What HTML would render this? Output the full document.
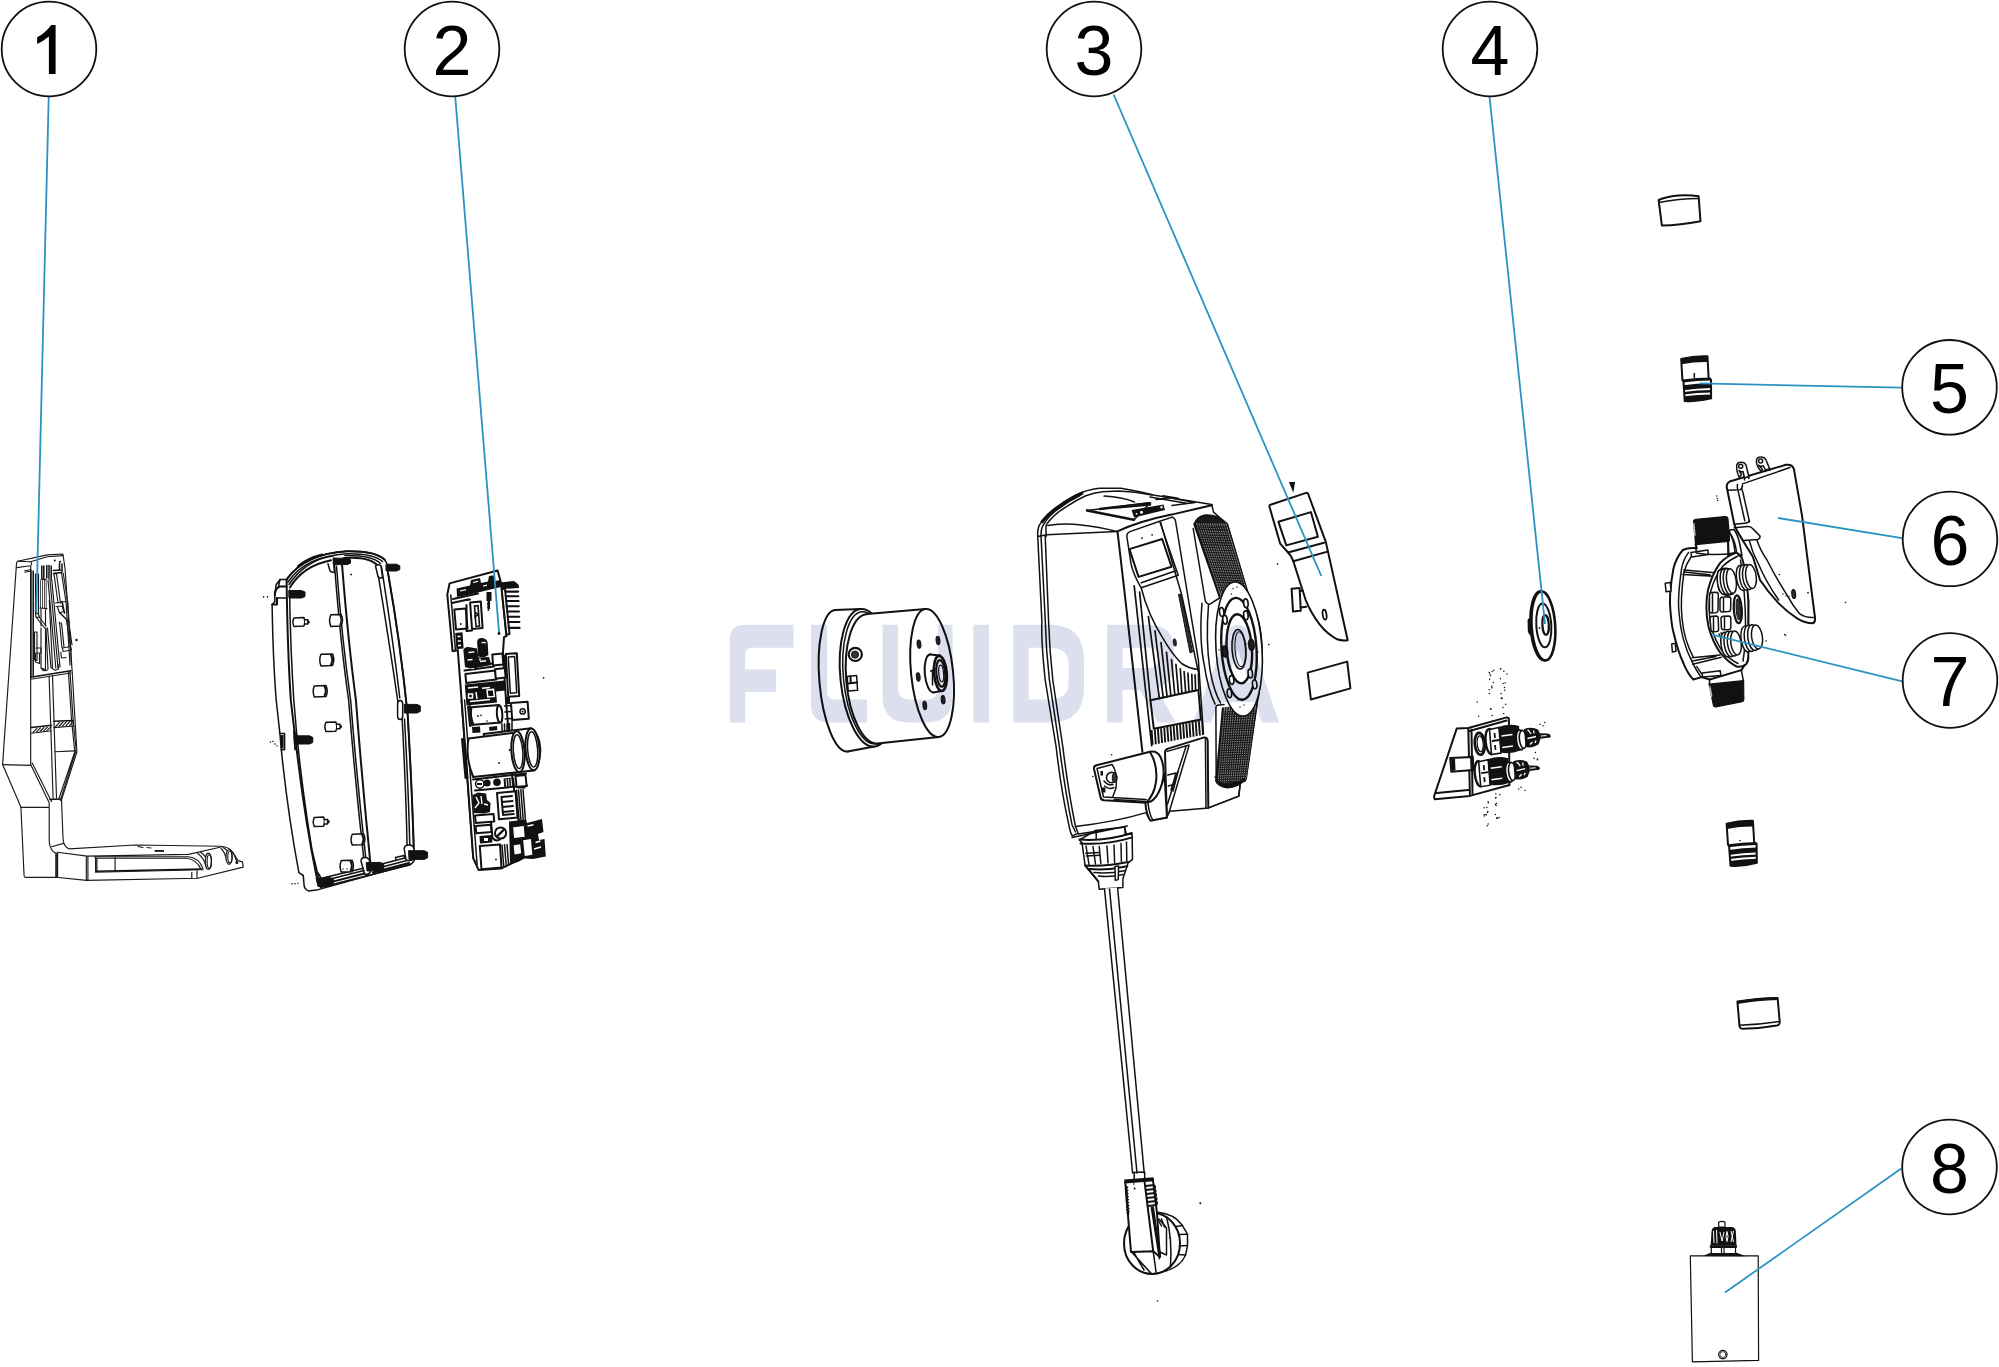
<!DOCTYPE html>
<html>
<head>
<meta charset="utf-8">
<title>Exploded view</title>
<style>
html,body{margin:0;padding:0;background:#fff;}
body{width:1999px;height:1367px;overflow:hidden;font-family:"Liberation Sans",sans-serif;}
svg{display:block;position:absolute;left:0;top:0;}
.k{fill:none;stroke:#111;stroke-width:1.5;stroke-linejoin:round;stroke-linecap:round;}
.kf{fill:#fff;stroke:#111;stroke-width:1.5;stroke-linejoin:round;stroke-linecap:round;}
.t{fill:none;stroke:#222;stroke-width:0.9;stroke-linejoin:round;stroke-linecap:round;}
.tf{fill:#fff;stroke:#222;stroke-width:0.9;stroke-linejoin:round;stroke-linecap:round;}
.b{fill:none;stroke:#111;stroke-width:2;stroke-linejoin:round;stroke-linecap:round;}
.bf{fill:#fff;stroke:#111;stroke-width:2;stroke-linejoin:round;stroke-linecap:round;}
.d{fill:#111;stroke:none;}
.ld{stroke:#2b93c2;stroke-width:1.8;fill:none;}
.co{fill:#fff;stroke:#111;stroke-width:1.8;}
.num{font-family:"Liberation Sans",sans-serif;font-size:70px;fill:#000;text-anchor:middle;}
#p1 .k,#p1 .kf{stroke-width:1.15;stroke:#1a1a1a;}#p1 .b{stroke-width:1.5;}#p1 .t{stroke-width:0.8;}#p8 .kf,#p8 .k{stroke-width:1.2;}
.wm{fill:#dcdfee;mix-blend-mode:multiply;}
</style>
</head>
<body>
<svg width="1999" height="1367" viewBox="0 0 1999 1367">
<rect width="1999" height="1367" fill="#fff"/>
<g id="p1">
<!-- tall body silhouette -->
<path class="kf" d="M17.7 561.3 L47.3 554.9 L62.9 554 L65 568 L72.2 672 L76.9 752 L61.5 799.7 L63 838 Q63.5 847 69.2 848.9 L135.3 845 L221.1 846.3 Q229 847 233 852.5 L238 860.6 L242.6 861.9 L243.2 867.1 L197.7 878.2 L86.5 880.4 L55.9 877.3 H25.4 Q24.2 877.3 24.1 876 L20.9 807 L2.6 764.6 L16.3 566.5 Q16.4 562 17.7 561.3 Z"/>
<!-- top lip -->
<path class="k" d="M17.7 561.3 L30.6 561.7 Q31.6 562.5 31.6 565 M16.7 567.6 L30.2 565.8 M30.6 561.7 L47.3 556.8 L62.9 555.6"/>
<!-- front-left face inner edge -->
<path class="k" d="M30.7 566 V764.4 L49.2 802.8 V841.2 Q50 851 56.3 853.5 V877.5 M2.6 764.6 L30.7 765.4 M20.9 807.3 H49.2"/>
<!-- base -->
<path class="k" d="M57.2 852.2 L87.1 856.1 L188.6 854.4 L221.1 847 M86.3 856.1 V880 M87.9 856.1 V880 M55.9 853 V877.3 M57.6 853 V877.3 M51.5 846.7 L63.6 843.4"/>
<path class="k" d="M94.3 856.7 H188.6 Q199 858 202.9 868.4 M95.6 857 V872.3 L202.9 869.7 V868.4 M97.5 858.2 H187.3 Q197 860 200.8 869 M96.9 858 V871 M115.1 856.7 V871.5 M191.8 872.3 V878.3 M197 871 V878.2"/>
<path class="b" d="M96 871.2 L201.5 868.9"/>
<path class="k" d="M197.5 853 Q204 858 206 866 M200.5 852 Q207 857 209 864"/>
<ellipse class="kf" cx="208.3" cy="861.3" rx="3" ry="8.2"/><ellipse class="k" cx="209.3" cy="861.5" rx="2.2" ry="6.8"/>
<path class="k" d="M221 848.5 Q225 852 226.5 860 M223 847.5 Q228 850 230 856"/>
<ellipse class="kf" cx="229" cy="856.9" rx="3" ry="7.4"/><ellipse class="k" cx="230" cy="857" rx="2.2" ry="6"/>
<path class="k" d="M229 849 Q234 852 236.5 861"/>
<circle class="d" cx="236.9" cy="862.6" r="1.5"/>
<rect class="d" x="154.6" y="850" width="9.4" height="1.8"/>
<path class="k" d="M138 846.5 L143 847.5 M147 847.5 L151 848"/>
<!-- frame inner right -->
<path class="k" d="M68.4 672 L71.6 721 L74.8 751.7 L58.7 799.2 M70 671.3 L73.2 721.2 L76.2 750 L60.3 800.5"/>
<path class="k" d="M32.2 763 L51.5 801.6"/>
<!-- cross bars -->
<path class="b" d="M30.7 677.2 L70.8 670.8"/>
<path class="k" d="M30.7 679.3 L70.8 673"/>
<path class="b" d="M31.4 727.6 L51.5 725.2 M53.9 721.2 L73.2 720.4"/>
<path class="k" d="M31.4 733.2 L51.5 730.8 M53.9 727.6 L74 726"/>
<path class="k" d="M33 732.3 l4-4 M36.5 731.9 l4-4 M40 731.5 l4-4 M43.5 731.1 l4-4 M47 730.7 l4-4 M55.5 726.8 l4-4.5 M59 726.5 l4-4.5 M62.5 726.2 l4-4.5 M66 725.9 l4-4.5 M69.5 725.6 l3.5-4"/>
<path class="k" d="M54.7 751.7 L74.8 750.9"/>
<!-- centre post -->
<path class="k" d="M49.1 676 L53.1 798.4 M52.5 675.5 L56.5 798"/>
<path class="b" d="M50 799.5 L60 799"/>
<!-- mechanism block -->
<path class="b" d="M30.9 570 V677 M33.2 571 V676"/>
<path class="k" d="M24.8 570.8 L30.5 569.8 M25 572.2 L30.5 571.2"/>
<path class="k" d="M35.5 574 V612.5 L38.5 614 V574 Z M35.5 612.5 L36 617 L39.5 617.5 L38.5 614"/>
<path class="k" d="M36 617 L44.5 628 M39.5 617.5 L46 626"/>
<path class="b" d="M41.8 566 V579 M43.8 566 V579 M41.5 579 L45.8 579.4"/>
<path class="t" d="M40.5 580 V608 M42.5 580 V608 M44.5 580.3 V608 M46.2 580.5 V608"/>
<path class="k" d="M40 608 L47 608.6 M41 608.5 V626 M45.5 609 V626"/>
<path class="b" d="M46.8 565.5 V578 M49 565.5 V579 M51.2 566 V580"/>
<path class="k" d="M41 628 V668 L45.5 669.5 V628 M41 668 Q43 672 47.5 670 M46 628 L48 669 M50 580 L58 668 M51.8 580 L60 667 M48 580 L55.8 668"/>
<path class="k" d="M52 668 Q54.5 671.5 58.5 669 L58 664"/>
<path class="k" d="M47.5 628 L51 668 M49.3 600 L52.5 668"/>
<path class="b" d="M53.3 570.5 L60.5 570 M53.5 573.5 L61.5 572.5 M59.5 563.5 V570 M62 564 V572"/>
<circle class="d" cx="54.8" cy="560.6" r="1"/><circle class="d" cx="60" cy="561.8" r="1.1"/><circle class="d" cx="55.8" cy="573.5" r="1.1"/>
<path class="k" d="M54 574 L58 603 M56.5 574 L60.5 603 M61.5 573 L66 602 M63.2 573 L67.5 601"/>
<path class="k" d="M55.5 603 L66 601.5 M56 606.5 L62.5 606 M57.5 607 L59.5 613 L63.5 611.5 L62.5 606"/>
<path class="b" d="M60 613 L68 621 M62 601.5 L64.5 613"/>
<path class="k" d="M59.5 622 L62 648 M61.5 623 L64 647 M66.5 620 L70.5 646 M68.5 620 L72 645"/>
<path class="k" d="M62.5 648 L70.5 646.5 L71.5 650 L63 651.5 Z M60.8 652 L61.5 658 L66 657.5"/>
<path class="k" d="M66 602 L70 665 M67.8 601.5 L71.5 664"/>
<path class="k" d="M34.5 632 V660 L37 660.5 V632 Z M36 648 H41 V653 H36.5 M35.5 653 V662 L39.5 663.5 V654"/>
<circle class="d" cx="59.6" cy="623" r="0.9"/>
<circle class="d" cx="76.5" cy="640" r="1.2"/>

</g>
<g id="p2a">
<!-- outer silhouette filled white -->
<path class="kf" stroke-width="2" d="M272.1 604.5 L274.8 601.9 V595.3 L276.1 584.8 L280 579.5 L286.6 579.5 C296 566 314 553 347.2 551.2 C362 551 378 553 384.7 559.8 Q388 564 388 572.9 Q400 640 407.7 715 Q412 790 413.7 846.3 L415.2 858 Q414 862 411.5 863.8 L316.4 890.1 L308.4 890.9 Q304 889 304 884.3 L303.3 875.5 L298.9 872.6 Q288 815 281.3 749.7 L279.9 733.6 L276.2 700 Q273 660 272.1 604.5 Z"/>
<!-- top-left corner block -->
<path class="b" d="M272.1 604.5 H277 V598 M274.8 595.3 Q275 588 280 586.5 H286.6"/>
<path class="k" d="M276.5 598 H286.6 M280 579.5 L278.5 586.5"/>
<!-- left rim lines -->
<path class="b" d="M286.6 580 Q287.5 650 290.8 700 Q293 720 295.2 736.6 Q304 815 316.4 875.5 L319.4 885.8" stroke-width="2.6"/>
<path class="k" d="M289.5 590 Q290.5 650 293.8 700 Q299 770 312 850 L318.5 877"/>
<path class="k" d="M279.9 733.6 H284.6 V749.7 H281.3"/>
<rect class="d" x="280.6" y="735" width="3" height="13.5"/>
<!-- arch -->
<path class="b" d="M286.6 579.5 C296 566 314 553 347.2 551.2 C362 551 378 553 384.7 559.8"/>
<path class="k" d="M288 582 C297 568.5 314 555.5 347 553.7 C361 553.5 376 555.5 382.5 561.5"/>
<path class="k" d="M289 584.5 C298 571 314 558 333 556 M345 555.6 C360 555.3 374 557.5 380.5 563.5"/>
<path class="b" d="M289.9 587.4 C298 574 312 564 331 560.2 M344 558 C358 557 372 559 378 566"/>
<path class="b" d="M298 566 C304 561 312 557 322 554.5" stroke-width="2.6"/>
<!-- centre divider -->
<path class="k" d="M334 558 Q340 640 348.6 700 Q355 780 364 860.9"/>
<path class="k" d="M336.5 566.3 Q342 640 350.6 700 Q357 780 366 860"/>
<path class="b" d="M341.9 563 Q348 640 355.9 700 Q362 780 370.6 865.3" stroke-width="2.6"/>
<!-- right edge -->
<path class="k" d="M376.8 566.3 Q389 640 397.9 702"/>
<path class="k" d="M381.4 566.3 Q393 640 399.8 698 M402 716 Q406 790 407.1 846.3"/>
<path class="b" d="M388 572.9 Q400 640 407.7 715 Q412 790 413.7 846.3" stroke-width="2.8"/>
<path class="k" d="M404.5 719 Q408.5 790 409.8 846"/>
<!-- bosses -->
<path class="kf" d="M328 563.7 L330 571 Q332 573 334.5 572 L333.5 563"/>
<path class="kf" d="M375.5 566 L378 576.5 Q380 579 382.5 577.5 L381 566 Q378 563.5 375.5 566 Z"/>
<path class="kf" d="M397.6 704 Q397.6 700.5 400.2 700.5 Q402.7 700.5 402.7 704 V716 Q402.7 719.5 400.2 719.5 Q397.6 719.5 397.6 716 Z"/>
<path class="k" d="M293.8 730.7 L298.9 740 L295 749.7 Z"/>
<path class="kf" d="M361 861 Q361 857.5 365 857.5 Q369 857.5 369.5 861 L370.5 872 Q368 875.5 364.5 874 Z"/>
<path class="kf" d="M404.2 849 Q404.2 845 409 845 Q413.5 845 414 849 L414.5 858.5 Q411 862 406 860 Z"/>
<path class="k" d="M316 872 Q320.5 874 321 880"/>
<!-- bottom rail -->
<path class="k" d="M323.7 877.7 L363.2 868.2 M372 866.5 L405 858"/>
<path class="k" d="M324.5 880.5 L364 870.6 M372.5 869.5 L407 860.5"/>
<path class="b" d="M325 883.6 L364.5 873.5 M373 872.5 L409 863"/>
<path class="k" d="M320.5 887.6 L410.5 864.8"/>
<path class="k" d="M395.5 857.5 L404 855.5 L404.5 857.5 M395.5 857.5 L396 859.8"/>
<!-- screws -->
<g fill="#111" stroke="#111" stroke-width="1" stroke-linejoin="round">
<path d="M386 564.2 H396.5 L399.8 565.8 V569.6 L396.5 571 H386 Z"/>
<path d="M333 558.2 H347 L350.5 559.6 V563.2 L347 564.6 H333.5 Z"/>
<path d="M288.8 590.5 H301.5 L305 592 V596.6 L301.5 598 H289 Z"/>
<path d="M404.2 704.4 H417 L420.3 706 V711.4 L417 713 H404.5 Z"/>
<path d="M294 735.8 H309.5 L312.8 737.4 V742.4 L309.5 744 H294.5 Z"/>
<path d="M316 878 L330 877.6 L333.3 879 V884.8 L330 886.5 L318 886.5 Z"/>
<path d="M366.2 862.6 L380.5 862.4 L383.7 864 V869.4 L380.5 871 H367 Z"/>
<path d="M408.6 850.7 H424.3 L427.6 852.3 V857.8 L424.3 859.4 H409 Z"/>
</g>
<!-- standoffs -->
<g class="kf">
<path d="M294 617.9 L304 617.5 Q305.7 621.8 304 626 L294 626.4 Q291.8 622.2 294 617.9 Z"/><path d="M305 619.8 H307.8 V624 H305 M307.8 620.6 Q310.5 622 307.8 623.4"/>
<path d="M330.8 614.8 L341 614.4 Q344 620.2 341 626 L330.8 626.4 Q328.4 620.6 330.8 614.8 Z"/><path d="M340 615.5 Q342.4 620.2 340 625"/>
<path d="M321 654.3 L332.5 653.9 Q335 659.7 332.5 665.5 L321 665.9 Q318.5 660 321 654.3 Z"/><path d="M331 655 Q333.4 659.7 331 664.6" stroke-width="2"/>
<path d="M314.3 685.9 L326 685.5 Q328.5 691 326 696.5 L314.3 696.9 Q312 691.4 314.3 685.9 Z"/><path d="M324.6 686.6 Q327 691 324.6 695.6" stroke-width="2"/>
<path d="M326 722.3 L335.8 721.9 Q337.8 726.6 335.8 731.2 L326 731.6 Q323.8 727 326 722.3 Z"/><path d="M337 724.3 H340 V728.8 H337 M340 725.2 Q343 726.6 340 728"/>
<path d="M314.3 817.4 L323.6 817 Q325.4 821.7 323.6 826.2 L314.3 826.6 Q312.2 822 314.3 817.4 Z"/><path d="M324.6 819.4 H327.6 V823.9 H324.6 M327.6 820.3 Q330.6 821.7 327.6 823"/>
<path d="M352.3 834.2 L363.6 833.8 Q366.4 839.3 363.6 844.7 L352.3 845.1 Q349.8 839.6 352.3 834.2 Z"/><path d="M362.2 834.9 Q364.6 839.3 362.2 843.8" stroke-width="2"/>
<path d="M341.3 860.6 L352 860.2 Q354.8 866 352 871.7 L341.3 872.1 Q338.8 866.4 341.3 860.6 Z"/><path d="M350.6 861.3 Q353 866 350.6 870.8" stroke-width="2"/>
</g>
<g class="d">
<circle cx="263.6" cy="596.9" r="0.8"/><circle cx="267.5" cy="596.9" r="0.8"/><circle cx="351.1" cy="574.5" r="0.9"/>
<circle cx="270.4" cy="742" r="0.8"/><circle cx="273" cy="741.5" r="0.8"/><circle cx="275" cy="744" r="0.8"/><circle cx="277" cy="746" r="0.7"/>
<circle cx="292" cy="883.8" r="0.8"/><circle cx="295" cy="883.8" r="0.8"/><circle cx="298" cy="883.4" r="0.7"/>
<circle cx="343" cy="869" r="0.7"/><circle cx="347" cy="869" r="0.7"/>
</g>

</g>
<g id="p2b">
<!-- PCB board outline -->
<path class="bf" d="M449.6 583.4 L497.6 570.5 L500.5 581.1 L501.7 589 L506.4 634.9 V636 L504 637.2 L502.9 653.6 L506 700 L512 775 L520 830 L523 858 L500.9 868.6 L478.5 869.9 L473.2 858 L463.1 720 L457.8 650.1 L452.6 651.3 L447.3 594.5 Z"/>
<path class="k" d="M450.8 595.1 L455.5 650.7 M464.6 700 L477.1 864.6 M461.3 700 L473.2 858"/>
<!-- top dark band -->
<path d="M456.6 588.5 L470 585.5 L471 580 L480 578 L481 583 L488 581.5 L489 576 L494 575.2 L495 581 L500.5 580 L501 587 L486 590.5 L470 594.5 L457 597 Z" fill="#111"/>
<path d="M460 591 l6-1.3 M473 582.5 l5-1.1 M483 586 l4-0.9" stroke="#fff" stroke-width="1.2" fill="none"/>
<path class="b" d="M453 599 L478 593.5 M452 603 L468 599.6"/>
<!-- pin header -->
<path class="bf" d="M501.7 589.3 L505 588.7 L509.5 634 L506.4 634.9 Z"/>
<g stroke="#111" stroke-width="2.1" stroke-linecap="round">
<path d="M505 586.9 H518 M505.4 591.6 H518.2 M505.8 596.3 H518.4 M506.2 601 H518.6 M506.7 606.2 H518.8 M507.2 611.5 H519 M507.7 616.8 H519.2 M508.2 622 H519.4 M508.7 627.9 H519.6"/>
</g>
<path d="M498.5 582.5 L514 581 L518.5 584.5 L518.7 588 L503 589 Z" fill="#111"/>
<!-- dark vertical blob -->
<path d="M486.5 592 H491.5 V601 H490 V609 H487.5 V601 H486.5 Z" fill="#111"/>
<circle class="d" cx="488" cy="604" r="1"/><circle class="d" cx="488.2" cy="607" r="1"/><circle class="d" cx="488.4" cy="610" r="1"/>
<!-- big square & chip -->
<path class="bf" d="M454.3 609.5 L465.8 608.5 L467.5 628.5 L456 629.5 Z" stroke-width="2.6"/>
<circle class="d" cx="460.8" cy="624" r="0.9"/>
<path class="bf" d="M470.1 602.5 L480.8 601.5 L482.6 628 L472 629 Z" stroke-width="2.6"/>
<path d="M474.5 606 L478 605.7 L479.5 626 L476 626.3 Z M475 612 l3 2.5 l-3 2.5Z" fill="none" stroke="#111" stroke-width="1.6"/>
<path class="b" d="M466 600 L470 599.5 M466.5 605 V631 L472 630.5" stroke-width="2.4"/>
<!-- left strip comps -->
<path d="M455.2 633 L462.5 632.3 L463.6 648.5 L456.4 649.2 Z" fill="#111"/>
<path d="M457.5 636.5 h3 M457.8 641 h3 M458 645.5 h3" stroke="#fff" stroke-width="1.3"/>
<circle class="d" cx="499" cy="633.5" r="1.4"/>
<!-- cap blob + cluster -->
<path d="M477.1 642 Q477.5 637.5 482 638 Q487.2 638.3 487.7 643 L488.4 655 Q484 658.5 478.2 656.5 Z" fill="#111"/>
<path d="M481.5 643 Q484 641.8 486 643.2" stroke="#fff" stroke-width="1.2" fill="none"/>
<path d="M463.3 650 Q465 646 470 647.3 L477 648.5 L478.5 657.5 L489 657 L491.4 665 L478 667.5 L470 668.5 L465 667 Z" fill="#111"/>
<path d="M468.5 652.5 l6-0.6 M467.5 660 l5-0.5 M480 661.5 l6-0.8" stroke="#fff" stroke-width="1.4" fill="none"/>
<circle cx="480" cy="659.5" r="1" fill="#fff"/>
<path class="bf" d="M492.3 654.5 L502.5 653.6 L503.3 664.6 L493.1 665.5 Z"/>
<!-- horizontal bar & block -->
<path class="b" d="M464.5 670.5 L494 666.5 M475 669.5 L476 666 L492 663.5" stroke-width="2.4"/>
<path class="bf" d="M465.4 674 L495.4 670.6 L496.2 679.6 L466.2 683 Z" stroke-width="2.4"/>
<path class="bf" d="M495 669.2 L504.8 668 L505.6 677.6 L495.8 678.8 Z"/>
<!-- tall narrow rect -->
<path class="bf" d="M505.8 654 L516.8 653.2 L519.2 696 L508.2 696.8 Z" stroke-width="2.4"/>
<path class="k" d="M508.3 657 L514.6 656.5 L516.7 692.8 L510.3 693.3 Z"/>
<path d="M503.3 655 L506 654.8 L507.2 672 L504.6 672.3 Z" fill="#111"/>
<!-- lower dark stuff -->
<path d="M464.8 684.5 L504 680.5 L505.5 690.5 L496 691.5 L497 702.5 L466.5 705.5 Z" fill="#111"/>
<path d="M468 688 l10-1 M482 688.2 l8-0.8 M468.5 694 h4 v4 h-4z M476 692 l1 7 M487 690 l6.5-0.6 l0.8 7 l-6.5 0.6z M470 701.5 l20-2" stroke="#fff" stroke-width="1.5" fill="none"/>
<path d="M505 697 H510 V704 H505.5Z" fill="#111"/>
<!-- small horizontal cylinder -->
<path class="bf" d="M471.5 707.2 L499 705 Q503.8 713 501.2 722.6 L473.5 724.8 Q469.5 716 471.5 707.2 Z"/>
<ellipse class="bf" cx="499.6" cy="714" rx="2.7" ry="8.6" transform="rotate(-4 499.6 714)"/>
<path class="b" d="M470 706 L472 725.5 M468 706.5 L470 726" />
<circle class="d" cx="478" cy="716" r="0.9"/><circle class="d" cx="481" cy="715.4" r="0.8"/><circle class="d" cx="487" cy="721" r="0.8"/>
<!-- box right -->
<path class="bf" d="M511 703 L527.6 701.8 L528.8 718.8 L512.2 720 Z"/>
<path class="k" d="M504.5 706 L511.2 705.5 M505.2 719 L512 718.4 M511.6 711.5 L504.8 712"/>
<circle class="k" cx="522.6" cy="711.4" r="2.6"/><circle class="d" cx="522.6" cy="711.4" r="1"/>
<path d="M472 727 L480 726.5 L480.4 732.5 L472.5 733 Z M489 727 L497 726 L497.3 730 L489.5 731Z" fill="#111"/>
<path class="k" d="M502 724 V733 M504.5 724 V733 M507 724 V732.5 M509.5 723.5 V732 M512 721 V732"/>
<!-- big capacitors -->
<path class="bf" d="M483.7 734 L531.2 728.3 Q540 735 540.3 749.4 Q540 764 534 770.4 L488 775.5 Z"/>
<ellipse class="bf" cx="532.5" cy="749.4" rx="7" ry="21" transform="rotate(-4 532.5 749.4)"/>
<ellipse class="k" cx="532.6" cy="749.4" rx="5" ry="17.6" transform="rotate(-4 532.6 749.4)"/>
<path class="bf" d="M468.6 738.4 L516 732.6 Q524 740 524.8 751.4 Q524.5 765 519.3 772 L473.2 777 Q465 757 468.6 738.4 Z"/>
<ellipse class="bf" cx="518" cy="751.6" rx="6.6" ry="20.4" transform="rotate(-4 518 751.6)"/>
<ellipse class="k" cx="518.1" cy="751.6" rx="4.7" ry="17" transform="rotate(-4 518.1 751.6)"/>
<path class="b" d="M464 738.5 L467.5 777.5 M462 739 L465.5 778"/>
<circle class="d" cx="509.5" cy="750" r="0.9"/><circle class="d" cx="499" cy="763" r="0.9"/>
<!-- row under capacitors -->
<path class="b" d="M473 779.5 L526 773.5 M475 790.5 L527 785.5"/>
<circle class="kf" cx="479.8" cy="784" r="4.2"/><path d="M477 784 h5" stroke="#111" stroke-width="2"/>
<circle class="d" cx="487" cy="783" r="3.6"/><circle class="d" cx="497" cy="782.3" r="3.8"/>
<path d="M503.5 778.5 L514 777.4 L514.8 786.4 L504.3 787.5 Z" fill="#111"/>
<path d="M506 779 l0.7 7.5 M508.5 778.8 l0.7 7.5 M511 778.5 l0.7 7.5" stroke="#fff" stroke-width="0.9"/>
<path class="bf" d="M515.5 776 L525.5 775 L526.6 786 L516.6 787 Z"/>
<path d="M517.5 786 h8 v2.5 h-8z" fill="#111"/>
<!-- relay -->
<path class="bf" d="M497 793 L515.5 791.2 L517.5 817.5 L499 819.3 Z" stroke-width="2.4"/>
<path class="b" d="M501.5 797 L512 796 M502 802 L512.5 801 M502.4 807 L513 806 M502.8 812 L513.4 811 M501.5 797 L503 815 L513.8 814"/>
<path class="k" d="M518.5 790 L521 821 M520.8 789.8 L523.3 820.8 M523 789.5 L525.5 820.5 M516.5 790.2 L519 821.2"/>
<!-- dark cluster left -->
<path d="M472.5 795 L478 792.5 L486 793.5 L487 800 L490.5 803 L490 812 L484 813.5 L473.5 813 Z" fill="#111"/>
<path d="M476 797 l3 6 l-4 5 M481 796 l1 8 M484 804 l4 1" stroke="#fff" stroke-width="1.4" fill="none"/>
<path class="bf" d="M475 815.5 L493.5 814 L494.3 821.5 L475.8 823 Z" stroke-width="2.4"/>
<path class="bf" d="M475.5 826 L490.8 824.8 L491.6 832 L476.3 833.2 Z" stroke-width="2.4"/>
<path class="b" d="M491 822 L492.5 838 Q496 842 500 839.5" stroke-width="2.2"/>
<!-- screw head -->
<circle class="bf" cx="500.6" cy="833" r="5.6"/><path d="M497 836.5 L504 829.5" stroke="#111" stroke-width="2.4"/>
<path d="M479.5 836 L492 835 L492.4 842.5 L480 843.5 Z" fill="#111"/><path d="M484 838 h4 v3 h-4z" fill="#fff"/>
<!-- bottom box -->
<path class="bf" d="M479.8 846 L500 844.4 L501.5 867.5 L481.5 869.2 Z" stroke-width="2.4"/>
<circle class="d" cx="496" cy="859.5" r="0.9"/>
<path class="k" d="M502 845 L503.8 867 M504.5 844.8 L506.3 866.5 M507 844.5 L508.6 865"/>
<!-- dark cluster right-bottom -->
<path d="M509 821.5 L526 819.5 L527 823 L542 819 L543.5 832 L538 834 L539 840 L544.5 839 L545.8 856.5 L533 859 L524 858.5 L518 862 L510 863.5 Z" fill="#111"/>
<path d="M514 828 l9-1 l0.8 9 l-9 1z M527.5 826 l6-1.3 M524 841 l1.5 14 l6-1 l-1.3-14z M535.5 842.5 l5-1.5 M534 849 l7-2 M514.5 846 l5-0.8 l0.8 7.5 l-5 0.8z" stroke="#fff" stroke-width="1.6" fill="#fff"/>
<circle class="d" cx="543.6" cy="677.8" r="0.9"/>

</g>
<g id="motor">
<!-- back flange -->
<ellipse class="bf" stroke-width="1.8" cx="841.4" cy="680.7" rx="22" ry="71" transform="rotate(-5 841.4 680.7)"/>
<path d="M835.2 610 L860.5 609 L874.4 746.5 L847.6 751.4 Z" fill="#fff" stroke="none"/>
<path class="b" stroke-width="1.8" d="M835.2 610 L860.5 609 M847.6 751.4 L874.4 746.5"/>
<ellipse class="bf" stroke-width="1.8" cx="867.45" cy="677.75" rx="27" ry="69.1" transform="rotate(-5.77 867.45 677.75)"/>
<ellipse class="k" cx="868.5" cy="677.75" rx="25" ry="66.3" transform="rotate(-5.77 868.5 677.75)"/>
<!-- body -->
<ellipse class="bf" stroke-width="1.8" cx="872.2" cy="678.9" rx="26" ry="65" transform="rotate(-5 872.2 678.9)"/>
<path d="M867 614.1 L925.5 609 L938.7 737 L877.3 743.6 Z" fill="#fff" stroke="none"/>
<path class="b" stroke-width="1.8" d="M867 614.1 L925.5 609 M877.3 743.6 L938.7 737"/>
<ellipse class="bf" stroke-width="1.8" cx="932.1" cy="673" rx="21" ry="64.3" transform="rotate(-5.9 932.1 673)"/>
<!-- bolt holes -->
<g fill="#222" stroke="#111" stroke-width="1">
<ellipse cx="919" cy="644.1" rx="1.9" ry="4.2" transform="rotate(-6 919 644.1)"/>
<ellipse cx="938" cy="640.5" rx="1.9" ry="4.2" transform="rotate(-6 938 640.5)"/>
<ellipse cx="918.2" cy="677" rx="1.9" ry="4.2" transform="rotate(-6 918.2 677)"/>
<ellipse cx="924.8" cy="705.5" rx="1.9" ry="4.2" transform="rotate(-6 924.8 705.5)"/>
<ellipse cx="943.1" cy="699.7" rx="1.9" ry="4.2" transform="rotate(-6 943.1 699.7)"/>
</g>
<!-- hub -->
<ellipse class="bf" stroke-width="1.8" cx="931.6" cy="673.4" rx="6.8" ry="19" transform="rotate(-5 931.6 673.4)"/>
<path d="M929.9 654.4 L940.2 655.8 L940.9 690.9 L933 692.4 Z" fill="#fff"/>
<path class="b" stroke-width="1.8" d="M929.9 654.4 L940 655.6 M933.2 692.4 L941.2 691"/>
<ellipse cx="940.4" cy="673.4" rx="6.4" ry="17.6" transform="rotate(-5 940.4 673.4)" fill="#fff" stroke="#111" stroke-width="2.6"/>
<ellipse cx="940.8" cy="673.4" rx="4.4" ry="13.4" transform="rotate(-5 940.8 673.4)" fill="none" stroke="#111" stroke-width="2.2"/>
<ellipse cx="941.2" cy="673.4" rx="2.4" ry="8.4" transform="rotate(-5 941.2 673.4)" fill="none" stroke="#111" stroke-width="1.2"/>
<path class="k" d="M932.5 670 V685 M930.5 671 H934"/>
<!-- side screw -->
<circle cx="855.3" cy="654.4" r="6.6" fill="#fff" stroke="#111" stroke-width="2.2"/>
<circle cx="855" cy="654.6" r="3.6" fill="#333" stroke="#111" stroke-width="1"/>
<!-- terminal -->
<path class="kf" d="M847.2 676.5 L856.6 675.6 L857.6 690.2 L848.2 691 Z"/>
<path class="b" stroke-width="1.8" d="M847.6 683.4 L857 682.4 M850.4 676.3 L850.8 683"/>

</g>
<g id="pump">
<path class="kf" stroke-width="1.9" d="M1037.7 535.6 Q1037.5 527 1040.2 523.9 Q1046 515 1053.7 509.5 Q1064 501 1075.5 495.2 Q1087 489.5 1099.1 488.2 L1121 488.2 Q1138 491 1154.6 495.2 L1211.8 504.5 L1213.5 512.1 L1227.2 524.2 L1248.1 594.4 Q1262 620 1262 650 Q1261 690 1256.8 704.2 L1245.9 778.8 L1240.5 781 L1238.8 796.1 L1208.5 807.9 L1169.8 811.3 L1166.4 818 L1149.6 819.7 L1146.2 812.6 Q1115 822 1075.5 826.4 L1078.1 833.1 L1072.2 836 Q1070 832 1068.8 824.7 Q1061 790 1056.2 747.3 L1045.2 680 Q1041 640 1041.9 621.5 Z"/>
<path class="k" d="M1041 535.6 L1045.3 621.5 Q1046 650 1049.4 680 L1059.5 747.3 Q1065 790 1072 824.7 L1075.5 832"/>
<path class="k" d="M1045.2 535.6 L1048.6 621.5 Q1049.5 650 1052.8 680 L1062.9 747.3 Q1068 790 1075.5 826.4"/>
<path class="k" d="M1046.3 536.2 Q1045.6 528 1046.3 524.6 Q1054 514 1066.1 506.9 Q1076 500 1085.8 495.7 Q1094 492.5 1102.3 491.7 L1118.7 491.1 Q1135 491.5 1152 495"/>
<path d="M1041.5 522.5 Q1050 512 1059.5 506 Q1071 498 1083 492.8" stroke="#111" stroke-width="3.2" fill="none"/>
<path class="k" d="M1041 535.6 Q1041 528 1043.5 524.7 Q1049 515.5 1057 510 Q1068 501 1080 495.5"/>
<path class="k" d="M1037.7 536.5 L1046.9 534.8 L1116.8 531.4 M1047.8 525.5 Q1065 523 1078.9 524.7 Q1100 527 1116.8 531.4"/>
<path class="b" d="M1116.8 531.6 Q1140 521 1171.5 514.6 L1211.8 505.3"/>
<path class="b" d="M1117.6 532.3 L1124.3 590 L1142.4 751.8" stroke-width="2.4"/>
<path class="k" d="M1087.3 510.4 L1149.6 502.8 M1134.4 519.6 L1149.6 503.5 M1104.1 496.1 Q1122 497 1134.4 502"/>
<path d="M1087.1 510.4 L1133.9 519.8 M1100 509 L1150 503.2 M1116 507.5 L1150 504.5" stroke="#111" stroke-width="2.6" fill="none" stroke-linecap="round"/>
<path d="M1131.5 510 L1163.5 504.5 L1165 510 L1134 517.5 Z" fill="#111"/>
<circle cx="1141.5" cy="512.3" r="1.5" fill="#fff"/><circle cx="1161.5" cy="507.2" r="1.6" fill="#fff" stroke="#111" stroke-width="0.8"/><circle cx="1136.5" cy="513.8" r="0.9" fill="#fff"/>
<path class="k" d="M1150 497 L1188 503.5 M1156 499.5 L1170 497.8 L1192 502 M1172 505.5 L1195 502.5 M1163 495.8 L1178 498.3"/>
<path class="k" d="M1126.9 537 Q1126.5 533 1130 531.6 L1159.7 521.3 M1126.9 537 L1131.1 564.2 Q1134 576 1141.2 587.8 M1172.3 517.1 L1159.7 521.3 L1178.2 575.2 L1141.2 587.8 M1141.2 582.8 L1176.6 570.5"/>
<path class="b" d="M1129.4 549.1 L1162.2 539 L1171.5 566.8 L1138.6 576.9 Z"/>
<circle class="d" cx="1142" cy="538.2" r="0.9"/><circle class="d" cx="1152.1" cy="534.8" r="0.9"/>
<path class="k" d="M1172.3 517.1 Q1175 518 1175.5 521 L1198.4 660.2 L1203.4 733.9"/>
<path class="k" d="M1160.5 522.3 L1181.6 594.5 L1198.4 672"/>
<path d="M1178.5 594.5 L1181 594.2 L1192.5 652 L1190 652.8 Z" fill="#333" stroke="#111" stroke-width="1"/>
<path class="k" d="M1141.2 587.8 Q1148 615 1163 638.3 Q1172 654 1181.6 663.5 Q1190 669 1198.4 669.4"/>
<ellipse cx="1174.8" cy="642.5" rx="2" ry="4" fill="#222" transform="rotate(-8 1174.8 642.5)"/>
<path d="M1134.2 585.9 L1146.6 699.5 M1139.6 592.0 L1150.5 700.6 M1148.4 616.7 L1159.4 698.6 M1155.0 630.9 L1163.2 697.7 M1161.0 642.5 L1167.1 696.9 M1166.5 652.3 L1170.9 696.0 M1171.5 659.5 L1174.8 695.1 M1175.9 664.4 L1178.6 694.2 M1180.3 668.8 L1181.9 693.5 M1184.1 671.5 L1185.7 692.6 M1187.9 673.2 L1189.0 691.9 M1191.8 674.3 L1192.3 691.1 M1195.1 674.8 L1195.6 690.4 M1198.4 673.7 L1198.9 689.6 M1146.6 699.5 L1151.7 745.6 " stroke="#111" stroke-width="1.7" fill="none" stroke-linecap="round"/>
<path class="b" d="M1150.4 700.2 L1198.4 690.1 L1200.9 719.5 L1153.8 728.8 Z" stroke-width="2.8"/>
<path d="M1151.6 730.0 L1152.6 744.8 M1154.8 729.4 L1155.8 744.2 M1157.9 728.8 L1158.9 743.6 M1161.0 728.2 L1162.1 743.0 M1164.2 727.6 L1165.2 742.4 M1167.3 726.9 L1168.4 741.7 M1170.5 726.3 L1171.5 741.1 M1173.6 725.7 L1174.7 740.5 M1176.8 725.1 L1177.8 739.9 M1180.0 724.4 L1181.0 739.2 M1183.1 723.8 L1184.1 738.6 M1186.2 723.2 L1187.3 738.0 M1189.4 722.6 L1190.4 737.4 M1192.5 722.0 L1193.6 736.8 M1195.7 721.3 L1196.7 736.1 M1198.8 720.7 L1199.9 735.5 M1202.0 720.1 L1203.0 734.9 " stroke="#111" stroke-width="1.9" fill="none" stroke-linecap="butt"/>
<path class="b" d="M1165 753 Q1164.8 749.6 1168 748.6 L1203.5 737.6 Q1207.5 737 1207.7 741 L1208.3 807.6 M1165 753 L1166.7 813.5"/>
<path class="k" d="M1205.4 739.5 L1206 807.8"/>
<path class="k" d="M1167.3 751.4 L1189 745 M1189 745.6 L1169.1 812.3 M1186 746.5 L1167.5 804"/>
<path class="k" d="M1167.8 775 L1176 773 M1168.3 786 L1173.5 784.5 M1176 773 Q1174 781 1171 790 M1178 771.5 Q1176 780 1173 791"/>
<path class="k" d="M1193.2 528.5 L1205.3 601 Q1207 604.5 1209.6 604.3 L1219.5 598"/>
<path class="k" d="M1202 603.2 Q1199 640 1204.2 664.7 Q1208 690 1215.1 704.2 M1208.5 605.4 Q1205.5 640 1210 670 Q1214 692 1220.6 703.1"/>
<path class="k" d="M1217.3 705.3 Q1215.9 705.5 1215.9 707.5 L1216.2 781 M1217.3 705.3 L1224 704.6"/>
<path class="k" d="M1208.5 807.9 L1238.8 796.1 L1240.5 781 L1245.9 778.8"/>
<path d="M1194.3 524.2 Q1197 517 1204.2 515.4 Q1218 514.5 1227.2 524.2 L1248.1 594.4 L1234.9 582.3 L1219.5 596.6 Z" fill="#1a1a1a" stroke="#111" stroke-width="2"/>
<path d="M1196.6 523.5 L1221.0 596.0 M1198.9 523.5 L1223.1 596.0 M1201.1 523.5 L1225.2 596.0 M1203.4 523.5 L1227.2 596.0 M1205.6 523.5 L1229.3 596.0 M1207.9 523.5 L1231.4 596.0 M1210.1 523.5 L1233.5 596.0 M1212.4 523.5 L1235.5 596.0 M1214.6 523.5 L1237.6 596.0 M1216.9 523.5 L1239.7 596.0 M1219.1 523.5 L1241.8 596.0 M1221.4 523.5 L1243.8 596.0 M1223.6 523.5 L1245.9 596.0 M1225.9 523.5 L1248.0 596.0 " stroke="#fff" stroke-width="0.55" fill="none"/>
<path d="M1194.8 525.5 L1227 526.5 M1196.5 529 L1228 530" stroke="#111" stroke-width="0.8" fill="none"/>
<path d="M1195.5 527.0 L1227.0 528.0 M1196.4 529.5 L1227.8 530.5 M1197.4 532.0 L1228.6 533.0 M1198.3 534.6 L1229.4 535.6 M1199.3 537.1 L1230.2 538.1 M1200.2 539.6 L1231.0 540.6 M1201.1 542.1 L1231.8 543.1 M1202.1 544.6 L1232.6 545.6 M1203.0 547.2 L1233.4 548.2 M1204.0 549.7 L1234.2 550.7 M1204.9 552.2 L1235.0 553.2 M1205.8 554.7 L1235.8 555.7 M1206.8 557.2 L1236.6 558.2 M1207.7 559.8 L1237.4 560.8 M1208.7 562.3 L1238.2 563.3 M1209.6 564.8 L1239.0 565.8 M1210.5 567.3 L1239.8 568.3 M1211.5 569.8 L1240.6 570.8 M1212.4 572.4 L1241.4 573.4 M1213.4 574.9 L1242.2 575.9 M1214.3 577.4 L1243.0 578.4 M1215.2 579.9 L1243.8 580.9 M1216.2 582.4 L1244.6 583.4 M1217.1 585.0 L1245.4 586.0 M1218.1 587.5 L1246.2 588.5 M1219.0 590.0 L1247.0 591.0 " stroke="#1a1a1a" stroke-width="1.1" fill="none"/>
<path d="M1222.8 708.6 L1256.8 704.2 L1245.9 778.8 Q1238 787 1227.2 787.6 Q1218 786 1216.2 781 Z" fill="#1a1a1a" stroke="#111" stroke-width="2"/>
<path d="M1224.7 705.9 L1217.9 783.9 M1227.1 705.7 L1220.0 783.6 M1229.5 705.5 L1222.1 783.3 M1231.9 705.2 L1224.2 783.0 M1234.3 705.0 L1226.3 782.7 M1236.7 704.8 L1228.5 782.4 M1239.1 704.6 L1230.6 782.1 M1241.4 704.4 L1232.7 781.9 M1243.8 704.2 L1234.8 781.6 M1246.2 704.0 L1237.0 781.3 M1248.6 703.8 L1239.1 781.0 M1251.0 703.5 L1241.2 780.7 M1253.4 703.3 L1243.3 780.4 M1255.8 703.1 L1245.4 780.1 " stroke="#fff" stroke-width="0.55" fill="none"/>
<path d="M1222.3 712.0 L1256.0 711.0 M1222.1 714.4 L1255.7 713.4 M1221.9 716.8 L1255.3 715.8 M1221.7 719.2 L1255.0 718.2 M1221.5 721.7 L1254.6 720.7 M1221.3 724.1 L1254.3 723.1 M1221.1 726.5 L1253.9 725.5 M1220.9 728.9 L1253.6 727.9 M1220.6 731.3 L1253.2 730.3 M1220.4 733.7 L1252.9 732.7 M1220.2 736.1 L1252.6 735.1 M1220.0 738.6 L1252.2 737.6 M1219.8 741.0 L1251.9 740.0 M1219.6 743.4 L1251.5 742.4 M1219.4 745.8 L1251.2 744.8 M1219.2 748.2 L1250.8 747.2 M1219.0 750.6 L1250.5 749.6 M1218.8 753.0 L1250.1 752.0 M1218.6 755.4 L1249.8 754.4 M1218.4 757.9 L1249.4 756.9 M1218.2 760.3 L1249.1 759.3 M1218.0 762.7 L1248.8 761.7 M1217.7 765.1 L1248.4 764.1 M1217.5 767.5 L1248.1 766.5 M1217.3 769.9 L1247.7 768.9 M1217.1 772.3 L1247.4 771.3 M1216.9 774.8 L1247.0 773.8 M1216.7 777.2 L1246.7 776.2 M1216.5 779.6 L1246.3 778.6 M1216.3 782.0 L1246.0 781.0 " stroke="#1a1a1a" stroke-width="1.1" fill="none"/>
<path d="M1217 781.5 Q1228 790 1245.5 779.5" stroke="#111" stroke-width="3" fill="none"/>
<ellipse cx="1239" cy="649" rx="23" ry="67.2" transform="rotate(-3.8 1239 649)" fill="#fff" stroke="#111" stroke-width="1.6"/>
<ellipse cx="1239" cy="648.8" rx="17.5" ry="51" transform="rotate(-3.8 1239 648.8)" fill="none" stroke="#111" stroke-width="2.4"/>
<ellipse cx="1239.3" cy="648.8" rx="12.6" ry="34.6" transform="rotate(-3.8 1239.3 648.8)" fill="none" stroke="#111" stroke-width="2.4"/>
<ellipse cx="1239" cy="649.3" rx="7" ry="19.8" transform="rotate(-3.8 1239 649.3)" fill="#dcdfee" stroke="#111" stroke-width="1.6"/>
<ellipse cx="1240.2" cy="649.3" rx="5.2" ry="17.5" transform="rotate(-3.8 1240.2 649.3)" fill="#eceef6" stroke="#111" stroke-width="1"/>
<ellipse cx="1221.7" cy="612" rx="2.2" ry="4.4" transform="rotate(-6 1221.7 612)" fill="#fff" stroke="#111" stroke-width="1.7"/>
<ellipse cx="1245.9" cy="603.2" rx="2.2" ry="4.4" transform="rotate(-6 1245.9 603.2)" fill="#fff" stroke="#111" stroke-width="1.7"/>
<ellipse cx="1225" cy="619.7" rx="2.2" ry="4.4" transform="rotate(-6 1225 619.7)" fill="#fff" stroke="#111" stroke-width="1.7"/>
<ellipse cx="1245.9" cy="615.3" rx="2.2" ry="4.4" transform="rotate(-6 1245.9 615.3)" fill="#fff" stroke="#111" stroke-width="1.7"/>
<ellipse cx="1225" cy="651.5" rx="2.6" ry="5.4" transform="rotate(-6 1225 651.5)" fill="#222" stroke="#111" stroke-width="1.7"/>
<ellipse cx="1251.4" cy="644.9" rx="2.6" ry="5.4" transform="rotate(-6 1251.4 644.9)" fill="#222" stroke="#111" stroke-width="1.7"/>
<ellipse cx="1231.6" cy="680" rx="2.2" ry="4.4" transform="rotate(-6 1231.6 680)" fill="#fff" stroke="#111" stroke-width="1.7"/>
<ellipse cx="1250.3" cy="673.5" rx="2.2" ry="4.4" transform="rotate(-6 1250.3 673.5)" fill="#fff" stroke="#111" stroke-width="1.7"/>
<ellipse cx="1229.4" cy="693.2" rx="2.2" ry="4.4" transform="rotate(-6 1229.4 693.2)" fill="#fff" stroke="#111" stroke-width="1.7"/>
<ellipse cx="1254.7" cy="684.4" rx="2.2" ry="4.4" transform="rotate(-6 1254.7 684.4)" fill="#fff" stroke="#111" stroke-width="1.7"/>
<circle class="d" cx="1233" cy="588.5" r="0.7"/>
<circle class="d" cx="1237" cy="587" r="0.7"/>
<circle class="d" cx="1231.5" cy="594" r="0.7"/>
<circle class="d" cx="1236" cy="597.5" r="0.7"/>
<circle class="d" cx="1240" cy="707" r="0.7"/>
<circle class="d" cx="1244" cy="705" r="0.7"/>
<circle class="d" cx="1238" cy="700" r="0.7"/>
<circle class="d" cx="1219" cy="650" r="0.7"/>
<circle class="d" cx="1258" cy="652" r="0.7"/>
<circle class="d" cx="1246" cy="644" r="0.7"/>
<circle class="d" cx="1245.5" cy="650" r="0.7"/>
<path class="bf" d="M1094 769 Q1093.5 766 1096.5 765.3 L1150 751.8 Q1157 750.5 1160.5 757 Q1165.5 768 1162.5 782 Q1160 797 1151 801.5 L1146.2 802.8 L1104 800.3 Q1101 800 1100.5 797 Z"/>
<path class="k" d="M1097 768.5 L1112 764.5 Q1118 772 1116 788 L1112.5 797.5 L1103.5 797 Z M1112.5 797.5 L1146.2 799.5 M1114.2 799.5 L1146 801.5"/>
<path class="b" d="M1150 752 Q1158 765 1156 782 Q1154 795 1146.2 802.8"/>
<circle cx="1111.7" cy="777.6" r="5.2" fill="#fff" stroke="#111" stroke-width="1.6"/><ellipse cx="1114.5" cy="777.8" rx="2.2" ry="4.6" fill="#333" stroke="#111"/>
<path d="M1100.5 771 h2.5 v4.5 h-2.5z M1101.8 787.5 h3.6 v5 h-3.6z" fill="#111"/>
<path class="k" d="M1104 781 Q1108 786 1113 784.5 M1104.5 786 Q1109 790 1114 787.5"/>
<path class="bf" d="M1145.4 802.8 Q1146 814 1150.5 820.8 L1167 817.6 L1164.5 774 Q1160 796 1151 801.5 Z"/>
<path class="k" d="M1148 803 Q1149 813 1152.5 819.5"/>
<circle class="d" cx="1111.6" cy="754.8" r="0.8"/><circle class="d" cx="1092.8" cy="776.5" r="0.8"/><circle class="d" cx="1215" cy="777" r="0.8"/>

</g>
<g id="cable">
<!-- gland -->
<path class="kf" d="M1095.7 830.4 L1124.6 826.9 L1126.3 834.5 L1132.1 833.9 L1132.5 859.4 L1128.1 862.9 L1122.9 878.7 V887.5 L1099.2 889.2 L1098.3 881.3 L1086 866.4 L1085.1 865.5 L1082 842.7 L1079.4 840 Z"/>
<path class="k" d="M1096.2 830.4 V838.5 M1124.8 827 L1125.2 835"/>
<path class="b" d="M1079.6 839.6 Q1106 841.5 1131.8 833 M1080.5 843.4 Q1106 845.5 1132.3 837.4" stroke-width="2.2"/>
<path class="k" d="M1086 846 L1089 864.5 M1093 846.5 L1095.5 864 M1099.2 846.5 L1100.8 863.5 M1107 846 L1108 863 M1114 845 L1114.6 862.5 M1121 843.5 L1121.4 861.5 M1126.5 842 L1126.8 860.5"/>
<path class="k" d="M1085.8 853.2 L1099.4 852.5 M1086.3 856 L1099.6 855.3"/>
<path class="b" d="M1085.1 865.5 Q1108 866.5 1128.1 862 M1089.5 869 Q1108 870.5 1127.3 866.3" stroke-width="2.2"/>
<path class="k" d="M1093.9 872.5 Q1108 874 1124.6 870.7 M1098.3 876 Q1110 877.5 1123 874.5"/>
<path class="b" d="M1086 866.4 L1098.3 881.3" stroke-width="2.4"/>
<path class="kf" d="M1115 866.4 L1118.6 866 L1118.2 879.6 L1115.3 880.4 Z"/>
<path class="k" d="M1072 837.4 L1127.3 826 M1078.1 833.9 L1124.6 826.9"/>
<!-- cable -->
<path d="M1104.5 888.5 L1117.6 887.5 L1144.4 1173 L1133.4 1173 Z" fill="#fff" stroke="none"/>
<path class="k" d="M1104.5 889 L1132.6 1173 M1117.6 888 L1144.2 1173 M1109.5 889 L1137 1173"/>
<!-- plug disc -->
<path class="kf" d="M1158 1212.3 Q1174 1214 1181.8 1224.7 L1187.5 1234.2 V1245.6 L1185.6 1255 Q1180 1268 1162 1272 L1151.3 1274.1 Z"/>
<ellipse class="bf" cx="1152" cy="1243.4" rx="28" ry="30.6"/>
<path class="k" d="M1176 1226.5 L1182.5 1225.5 M1179 1234.5 L1187 1234.2 M1179.5 1246 L1187.5 1245.6 M1178 1254.5 L1185.6 1255"/>
<path class="k" d="M1166.6 1217 Q1172.5 1240 1170.4 1267.4 M1159 1219 L1166.5 1228 V1255 L1159.9 1252"/>
<path class="k" d="M1157.5 1219 L1161.5 1226 M1161.5 1219 L1164.5 1227"/>
<!-- plug body -->
<path class="bf" d="M1125.2 1181.4 L1152.8 1179 L1157 1213.2 L1159.9 1257 L1153.2 1251.3 L1131 1252 Z"/>
<path class="k" d="M1133.3 1172.4 L1144.7 1171.9 M1134.2 1172.4 V1180 M1144.7 1171.9 V1179.5"/>
<path d="M1124.3 1179.6 L1153.5 1177.2 L1153.9 1181.2 L1124.7 1183.6 Z" fill="#111"/>
<path class="b" d="M1144.7 1182.8 L1153.2 1251.3"/>
<path d="M1151.3 1207.5 L1153.3 1207.3 L1160.4 1256 L1159.3 1258 Z" fill="#111" stroke="#111" stroke-width="1.4"/>
<g stroke="#111" stroke-width="1.8" fill="none">
<path d="M1145.5 1186 L1154 1185 M1146 1190 L1154.5 1189 M1146.5 1194 L1155 1193 M1147 1198 L1155.5 1197 M1147.5 1202 L1156 1201 M1148 1206 L1156.5 1205"/>
<path d="M1154 1185 Q1156 1187 1154.5 1189 Q1156.5 1191 1155 1193 Q1157 1195 1155.5 1197 Q1157.5 1199 1156 1201 Q1158 1203 1156.5 1205"/>
</g>
<path d="M1125.6 1186 l1.6 1.5 l-1.4 1.5 l1.6 1.5 l-1.4 1.5 l1.6 1.5 l-1.4 1.5 l1.6 1.5 l-1.4 1.5 l1.6 1.5 l-1.4 1.5 l1.6 1.5 l-1.4 1.5 l1.6 1.5 l-1.4 1.5 l1.6 1.5 l-1.4 1.5 l1.6 1.5 l-1.4 1.5 l1.6 1.5" stroke="#111" stroke-width="1.8" fill="none"/>
<path class="k" d="M1131.4 1251.8 L1151.3 1273.6 M1133.5 1252 L1144 1270 M1153.2 1251.3 L1156.1 1272.2"/>
<circle class="d" cx="1133.8" cy="1184" r="0.8"/><circle class="d" cx="1134.6" cy="1188.5" r="1"/>
<circle class="d" cx="1200.3" cy="1203.3" r="1"/><circle class="d" cx="1157.5" cy="1301" r="0.8"/><circle class="d" cx="1169.5" cy="1237.5" r="0.7"/>

</g>
<g id="p3">
<path class="bf" d="M1270.5 504.8 L1306.2 492.9 Q1307.6 492.6 1308.2 494 L1325.8 541.9 L1347.7 640.2 Q1342 641 1337.2 639.3 Q1327 634 1319.6 624.4 Q1311 613 1305.6 599.8 L1293.3 561.2 Q1291.5 556 1288.1 552.5 L1280.2 543.7 L1269.4 506.5 Q1269.2 505.2 1270.5 504.8 Z"/>
<path class="b" d="M1278.4 521.8 L1310.9 512.1 L1317.9 536.7 L1286.3 545.4 Z"/>
<path class="b" d="M1288.1 552.5 L1324 542.8 M1293.3 561.2 L1327.5 551.6"/>
<path d="M1288.9 481.9 L1295.1 481.9 L1293.3 492.8 Z" fill="#111"/>
<ellipse cx="1324.6" cy="614.7" rx="1.9" ry="5" fill="#fff" stroke="#111" stroke-width="1.8" transform="rotate(-8 1324.6 614.7)"/>
<path class="bf" d="M1291.6 588.8 L1299.6 588 L1300.8 610.8 L1293 611.6 Z"/>
<path class="b" d="M1300 591 L1302.8 590.7 M1300.6 607.5 L1306.2 606.8"/>
<circle class="d" cx="1277.5" cy="563.9" r="0.8"/><circle class="d" cx="1268.8" cy="644.6" r="0.8"/>
<path class="bf" d="M1307.7 672.6 L1347.2 661.6 L1350.4 688.4 L1310.9 699.5 Z"/>

</g>
<g id="p4">
<ellipse cx="1542.2" cy="625.9" rx="11.8" ry="34.6" transform="rotate(-3.6 1542.2 625.9)" fill="#fff" stroke="#111" stroke-width="2.2"/>
<path d="M1527.6 622 Q1527 618.5 1530 618 L1533.4 619.5 L1534 634 L1531 635.8 Q1528 634 1527.8 631 Z" fill="#111"/>
<ellipse cx="1543.4" cy="625.9" rx="11.8" ry="34.6" transform="rotate(-3.6 1543.4 625.9)" fill="#fff" stroke="#111" stroke-width="2.6"/>
<ellipse cx="1543.8" cy="625.4" rx="7.5" ry="22" transform="rotate(-3.6 1543.8 625.4)" fill="none" stroke="#111" stroke-width="2"/>
<ellipse cx="1545.6" cy="625" rx="3.2" ry="9.9" transform="rotate(-3 1545.6 625)" fill="none" stroke="#111" stroke-width="2.2"/>
<circle class="d" cx="1539.5" cy="627.9" r="0.9"/><circle class="d" cx="1500.6" cy="668.8" r="0.9"/>

</g>
<g id="valves">
<path class="bf" d="M1456.8 728.4 L1468.3 728 L1506.7 717.4 Q1509 717.5 1508.9 719.6 L1509.5 785 L1469.9 795.9 L1434.8 799.2 Q1433.6 797 1434.5 795 Z" stroke-width="2.2"/>
<path class="b" d="M1468.3 728.4 L1469.9 795.3 M1436.5 793.1 L1468.3 789.9 M1469.4 731 L1506.7 720.5 M1471.5 729.5 L1472.5 794" />
<path class="bf" d="M1450.2 758 L1472.7 756.9 L1473.2 770.1 L1451.3 771.7 Z" stroke-width="2.2"/>
<path d="M1451 759 L1455 758.8 L1455.5 770.5 L1451.6 770.8 Z" fill="#111"/>
<path d="M1470 756 L1473.5 755.8 L1474 771 L1470.6 771.2 Z" fill="#111"/>
<ellipse cx="1479.8" cy="743.8" rx="5" ry="11" fill="#fff" stroke="#111" stroke-width="2.6" transform="rotate(-5 1479.8 743.8)"/>
<ellipse cx="1480.2" cy="743.8" rx="3" ry="8" fill="none" stroke="#111" stroke-width="1.2" transform="rotate(-5 1480.2 743.8)"/>
<g transform="translate(0 0)">
<ellipse cx="1490.2" cy="741.6" rx="4.6" ry="12.6" fill="#fff" stroke="#111" stroke-width="2.4" transform="rotate(-6 1490.2 741.6)"/>
<path d="M1489.5 729.5 L1499 727.5 L1501 753 L1491.5 754.5 Z" fill="#fff" stroke="#111" stroke-width="1.6"/>
<path d="M1492 741 L1499 740 M1494.5 733 L1495 738 M1495 745 L1495.5 750" stroke="#111" stroke-width="1.8"/>
<path d="M1498.5 727 Q1509 723 1519 726 L1520.5 750.5 Q1510 754.5 1500.5 752.5 Z" fill="#111"/>
<path d="M1501.5 736 L1512.5 734.5 M1502.2 747.5 L1513 746" stroke="#fff" stroke-width="1.6"/>
<ellipse cx="1520.3" cy="739.8" rx="4" ry="10" fill="#fff" stroke="#111" stroke-width="1.8" transform="rotate(-6 1520.3 739.8)"/>
<ellipse cx="1523" cy="739.3" rx="3.6" ry="9" fill="#fff" stroke="#111" stroke-width="1.6" transform="rotate(-6 1523 739.3)"/>
<path d="M1524 729 Q1532 726.5 1538 729.5 L1540 733.5 L1540.5 739 L1538.5 744.5 Q1532 748.5 1525.5 747 Z" fill="#111"/>
<path d="M1527.5 738.5 L1536 736.5 M1529 731 L1531 734 M1533.5 730.5 L1534 733.5 M1530 744.5 L1532.5 742 M1535 743 L1536 740.5" stroke="#fff" stroke-width="1.3"/>
<circle cx="1528.3" cy="730.5" r="1" fill="#fff"/>
<path d="M1540 733.2 L1547.5 733.5 Q1551 734.5 1550.8 736.5 Q1550 738.2 1547.5 737.8 L1540.3 738.8 Z" fill="#111"/>
<path d="M1541 736 L1546.5 735.6" stroke="#fff" stroke-width="1"/>
</g>
<g transform="translate(-10.8 32.2)">
<ellipse cx="1490.2" cy="741.6" rx="4.6" ry="12.6" fill="#fff" stroke="#111" stroke-width="2.4" transform="rotate(-6 1490.2 741.6)"/>
<path d="M1489.5 729.5 L1499 727.5 L1501 753 L1491.5 754.5 Z" fill="#fff" stroke="#111" stroke-width="1.6"/>
<path d="M1492 741 L1499 740 M1494.5 733 L1495 738 M1495 745 L1495.5 750" stroke="#111" stroke-width="1.8"/>
<path d="M1498.5 727 Q1509 723 1519 726 L1520.5 750.5 Q1510 754.5 1500.5 752.5 Z" fill="#111"/>
<path d="M1501.5 736 L1512.5 734.5 M1502.2 747.5 L1513 746" stroke="#fff" stroke-width="1.6"/>
<ellipse cx="1520.3" cy="739.8" rx="4" ry="10" fill="#fff" stroke="#111" stroke-width="1.8" transform="rotate(-6 1520.3 739.8)"/>
<ellipse cx="1523" cy="739.3" rx="3.6" ry="9" fill="#fff" stroke="#111" stroke-width="1.6" transform="rotate(-6 1523 739.3)"/>
<path d="M1524 729 Q1532 726.5 1538 729.5 L1540 733.5 L1540.5 739 L1538.5 744.5 Q1532 748.5 1525.5 747 Z" fill="#111"/>
<path d="M1527.5 738.5 L1536 736.5 M1529 731 L1531 734 M1533.5 730.5 L1534 733.5 M1530 744.5 L1532.5 742 M1535 743 L1536 740.5" stroke="#fff" stroke-width="1.3"/>
<circle cx="1528.3" cy="730.5" r="1" fill="#fff"/>
<path d="M1540 733.2 L1547.5 733.5 Q1551 734.5 1550.8 736.5 Q1550 738.2 1547.5 737.8 L1540.3 738.8 Z" fill="#111"/>
<path d="M1541 736 L1546.5 735.6" stroke="#fff" stroke-width="1"/>
</g>
<g class="d"><circle cx="1490.6" cy="675.5" r="0.75"/><circle cx="1492.3" cy="671.6" r="0.75"/><circle cx="1491.7" cy="686.3" r="0.75"/><circle cx="1489.3" cy="693.4" r="0.75"/><circle cx="1489.2" cy="689.7" r="0.75"/><circle cx="1489.3" cy="672.5" r="0.75"/><circle cx="1491.1" cy="709.3" r="0.75"/><circle cx="1489.6" cy="679.2" r="0.75"/><circle cx="1492.1" cy="715.4" r="0.75"/><circle cx="1491.9" cy="687.8" r="0.75"/><circle cx="1493.9" cy="670.3" r="0.75"/><circle cx="1493.3" cy="682.5" r="0.75"/><circle cx="1489.7" cy="673.9" r="0.75"/><circle cx="1490.5" cy="708.8" r="0.75"/><circle cx="1501.3" cy="698.2" r="0.75"/><circle cx="1504.5" cy="687.4" r="0.75"/><circle cx="1503.8" cy="671.3" r="0.75"/><circle cx="1500.4" cy="678.7" r="0.75"/><circle cx="1504.8" cy="690.2" r="0.75"/><circle cx="1502.2" cy="698.4" r="0.75"/><circle cx="1503.2" cy="683.6" r="0.75"/><circle cx="1505.6" cy="704.3" r="0.75"/><circle cx="1501.7" cy="697.9" r="0.75"/><circle cx="1503.7" cy="713.5" r="0.75"/><circle cx="1505.1" cy="683.0" r="0.75"/><circle cx="1506.9" cy="674.1" r="0.75"/><circle cx="1502.9" cy="707.4" r="0.75"/><circle cx="1501.1" cy="693.4" r="0.75"/><circle cx="1484.2" cy="814.7" r="0.75"/><circle cx="1487.8" cy="811.5" r="0.75"/><circle cx="1488.4" cy="802.7" r="0.75"/><circle cx="1487.5" cy="812.2" r="0.75"/><circle cx="1486.9" cy="807.5" r="0.75"/><circle cx="1488.2" cy="824.1" r="0.75"/><circle cx="1486.4" cy="814.6" r="0.75"/><circle cx="1484.3" cy="815.9" r="0.75"/><circle cx="1487.2" cy="825.8" r="0.75"/><circle cx="1488.1" cy="801.7" r="0.75"/><circle cx="1485.9" cy="814.7" r="0.75"/><circle cx="1484.1" cy="807.7" r="0.75"/><circle cx="1495.8" cy="793.7" r="0.75"/><circle cx="1495.3" cy="814.6" r="0.75"/><circle cx="1495.6" cy="797.9" r="0.75"/><circle cx="1497.0" cy="817.9" r="0.75"/><circle cx="1495.4" cy="804.4" r="0.75"/><circle cx="1497.7" cy="818.3" r="0.75"/><circle cx="1499.1" cy="817.6" r="0.75"/><circle cx="1496.4" cy="803.3" r="0.75"/><circle cx="1496.8" cy="818.3" r="0.75"/><circle cx="1499.8" cy="794.8" r="0.75"/><circle cx="1495.9" cy="797.4" r="0.75"/><circle cx="1496.2" cy="805.5" r="0.75"/><circle cx="1544.7" cy="722.6" r="0.75"/><circle cx="1540.0" cy="724.2" r="0.75"/><circle cx="1543.0" cy="725.7" r="0.75"/><circle cx="1537.6" cy="758.9" r="0.75"/><circle cx="1534.1" cy="758.2" r="0.75"/><circle cx="1535.4" cy="752.5" r="0.75"/><circle cx="1537.2" cy="759.8" r="0.75"/><circle cx="1525.0" cy="790.4" r="0.75"/><circle cx="1521.1" cy="787.2" r="0.75"/><circle cx="1518.8" cy="789.1" r="0.75"/><circle cx="1477.2" cy="702.1" r="0.75"/><circle cx="1478.6" cy="716.3" r="0.75"/></g>

</g>
<g id="head">
<!-- ===== Part 7 body ===== -->
<!-- top thread -->
<path d="M1693.5 522 Q1693.3 519.8 1696 519.4 L1725 516.6 Q1727.8 516.5 1728 519 L1729.6 540.7 L1695.6 544.2 Z" fill="#111" stroke="#111" stroke-width="1.2" stroke-linejoin="round"/>
<path d="M1693.3 524 l1 -0.8 l-0.8 2.8 l1 -0.8 l-0.8 2.8 l1 -0.8 l-0.8 2.8 l1 -0.8 l-0.8 2.8 l1 -0.8 l-0.8 2.8 l1 -0.8 l-0.8 2.8 l1 -0.8" stroke="#fff" stroke-width="0.7" fill="none"/>
<!-- flange (left disc) -->
<path class="bf" d="M1696.8 548.3 Q1688 547.5 1682.8 550 Q1676 558 1673.4 568.7 Q1668.5 595 1670.5 612 Q1672 628 1673.4 632 Q1678 652 1683.9 664.3 Q1688 674 1693.3 679.5 L1701.5 677.1 L1709.7 679.5 L1741.3 670.1 L1748 660 L1748.3 600 L1736.6 552.4 L1728.4 555.9 L1728 541 L1695.6 544.2 Z"/>
<path class="k" d="M1688.6 552.4 Q1683 560 1681.6 568.7 Q1677 600 1679.3 615 Q1681 640 1692.1 661.9 Q1696 670 1700.3 676"/>
<path class="k" d="M1691 557 Q1686 564 1684 572.2 Q1680 600 1682 618 Q1684 640 1693.3 657.2"/>
<path class="k" d="M1695.6 544.2 L1696.2 552 M1728.4 541 V555.9 M1691 552.4 L1707.9 550 L1708.3 554.6 L1691.6 557 Z"/>
<path class="k" d="M1696.2 553 Q1715 556.5 1736.6 552.4"/>
<path class="kf" d="M1665.2 583.3 L1670.3 582.5 L1671.1 591 L1666 591.8 Z"/>
<path class="kf" d="M1671.7 644 L1675.2 643.2 L1676 651.2 L1672.4 652 Z"/>
<!-- ribs -->
<path class="k" d="M1684 570 L1715.5 572.8 M1682.8 574.6 L1713.2 576.3 M1684 572 L1710 574.8"/>
<path class="k" d="M1692.1 657.8 L1720.2 654.9 M1692.7 664.3 L1721.4 657.2 M1692.5 661 L1716 656.5"/>
<path class="k" d="M1696.8 666.6 L1701.5 673.6 M1702.1 673 L1720.2 670.7 L1720.8 675.5 L1702.6 677 Z"/>
<!-- bottom thread -->
<path class="k" d="M1709.7 679.5 L1709.4 684.5 M1741.3 670.1 L1743.4 680.6"/>
<path d="M1709.1 684.2 L1743.6 680.6 L1743.8 699.5 Q1743.6 701.8 1741 702 L1716 706.8 Q1713.4 707 1713.2 704.5 Z" fill="#111" stroke="#111" stroke-width="1.2" stroke-linejoin="round"/>
<path d="M1709.3 687 l1 -0.8 l-0.6 2.8 l1 -0.8 l-0.6 2.8 l1 -0.8 l-0.6 2.8 l1 -0.8 l-0.6 2.8 l1 -0.8 l-0.6 2.8 l1 -0.8" stroke="#fff" stroke-width="0.7" fill="none"/>
<!-- housing front ring -->
<path class="bf" d="M1736.6 552.4 Q1727 556 1720.2 562.9 Q1712 574 1708 590 Q1704.5 608 1708.5 626.8 Q1713 643 1720.2 652.6 Q1728 662 1736.6 666.6 Q1742 667.5 1746 664.3 Q1748.5 661 1748.3 656.1 L1748.3 600 Q1746 570 1742 558 Z"/>
<path class="k" d="M1738 556 Q1729 560 1722.5 566.5 Q1714.5 577 1710.5 592 Q1707.5 608 1711 626 Q1715 641 1722 650.5 Q1729.5 659.5 1738 663.5"/>
<path class="k" d="M1740.5 560 Q1745 590 1745.5 620 Q1745.8 645 1743 661"/>
<!-- inner cavities -->
<g class="kf">
<path d="M1709.5 595 Q1709.5 592.7 1712 592.5 L1716 592.2 Q1718.3 592.3 1718.3 594.6 L1718 610.5 Q1717.8 612.6 1715.5 612.8 L1712 613 Q1709.6 613 1709.4 610.8 Z"/>
<path d="M1720 599.5 Q1720 597.4 1722.4 597.2 L1728.5 596.8 Q1730.8 596.9 1730.8 599.2 L1730.6 609.5 Q1730.5 611.4 1728.4 611.6 L1722.4 612 Q1720.2 612 1720 609.8 Z"/>
<path d="M1710 618.5 Q1710 616.4 1712.4 616.2 L1716 616 Q1718.2 616.1 1718.2 618.3 L1718.6 629.5 Q1718.5 631.4 1716.4 631.6 L1713.4 631.8 Q1711.2 631.8 1711 629.8 Z"/>
<path d="M1721 618.5 Q1721 616.4 1723.4 616.2 L1728.8 616 Q1730.8 616.1 1730.8 618.3 L1730.8 627.5 Q1730.7 629.4 1728.6 629.6 L1723.8 629.8 Q1721.6 629.8 1721.4 627.8 Z"/>
</g>
<path class="k" d="M1712.5 594 V612 M1723.5 598.5 V611 M1713.5 617.5 V630.5 M1724.5 617.5 V628.5 M1719 634 L1726 648 M1721 633 L1729 646"/>
<ellipse cx="1737.8" cy="609.3" rx="4" ry="14" fill="#fff" stroke="#111" stroke-width="2.2" transform="rotate(-4 1737.8 609.3)"/>
<ellipse cx="1738.4" cy="609.3" rx="2.2" ry="10.5" fill="#333" stroke="#111" stroke-width="1" transform="rotate(-4 1738.4 609.3)"/>
<!-- bracket to cover -->
<path class="kf" d="M1729.6 530.1 L1734 529.5 Q1738 535 1740 545 L1742 556 L1736.6 552.4 Q1735 540 1729.8 533 Z"/>
<path class="k" d="M1729.6 533 Q1733 538 1734.5 548 L1735 553.5"/>
<!-- ports -->
<g fill="#fff" stroke="#111" stroke-width="1.5">
<!-- top-left port -->
<path d="M1718 571.5 Q1722 567.5 1727 568.5 L1731 569.5 L1733 594 L1727.5 595.5 Q1721 594.5 1719 590 Q1716.5 580 1718 571.5 Z"/>
<ellipse cx="1722" cy="582" rx="4.6" ry="12.4" transform="rotate(-8 1722 582)"/>
<ellipse cx="1725.2" cy="581.6" rx="4.8" ry="12.8" transform="rotate(-8 1725.2 581.6)"/>
<ellipse cx="1728.4" cy="581.3" rx="4.9" ry="13" transform="rotate(-8 1728.4 581.3)"/>
<ellipse cx="1731.4" cy="581" rx="4.8" ry="12.4" transform="rotate(-8 1731.4 581)"/>
<!-- top-right port -->
<ellipse cx="1741.5" cy="578" rx="5" ry="12.6" transform="rotate(-8 1741.5 578)"/>
<ellipse cx="1744.8" cy="577.5" rx="5.2" ry="12.8" transform="rotate(-8 1744.8 577.5)"/>
<ellipse cx="1748" cy="577" rx="5.3" ry="12.6" transform="rotate(-8 1748 577)"/>
<ellipse cx="1751" cy="576.5" rx="5.2" ry="12" transform="rotate(-8 1751 576.5)"/>
<!-- bottom-left port -->
<ellipse cx="1726" cy="644.5" rx="5" ry="12.4" transform="rotate(-8 1726 644.5)"/>
<ellipse cx="1729.4" cy="644" rx="5.2" ry="12.8" transform="rotate(-8 1729.4 644)"/>
<ellipse cx="1732.8" cy="643.5" rx="5.3" ry="12.6" transform="rotate(-8 1732.8 643.5)"/>
<ellipse cx="1736" cy="643" rx="5.2" ry="12" transform="rotate(-8 1736 643)"/>
<!-- bottom-right port -->
<ellipse cx="1746.5" cy="639" rx="5.4" ry="13" transform="rotate(-8 1746.5 639)"/>
<ellipse cx="1750" cy="638.3" rx="5.6" ry="13.2" transform="rotate(-8 1750 638.3)"/>
<ellipse cx="1753.5" cy="637.6" rx="5.7" ry="13" transform="rotate(-8 1753.5 637.6)"/>
<ellipse cx="1757" cy="637" rx="5.4" ry="12" transform="rotate(-8 1757 637)"/>
</g>
<!-- ===== Part 6 cover ===== -->
<path class="bf" d="M1726.7 487 Q1726.5 483.5 1729.6 481.5 L1786 464.8 Q1792.5 464 1794 469.3 L1802.1 516.1 L1812.7 600 L1815 617.5 Q1815.5 622.5 1812.7 623.3 Q1805 623 1797.5 618.6 Q1787 612 1778.7 603.4 Q1768 592 1760 580 L1753 557 L1743.6 541.8 L1736.6 530.1 L1734.3 524.3 Z"/>
<path class="k" d="M1742.5 483.9 L1789.9 467.5 M1737.8 489.5 L1744.8 520.8 M1742.5 485.6 Q1741 488 1742.8 492 L1749.5 521.9 M1727.8 490.3 L1740.1 489.7 Q1742 489 1742.5 485.6 M1737.5 484.5 Q1737 487 1737.8 489.5"/>
<path class="k" d="M1734.3 524.3 L1745 523.3 Q1748.5 523 1749.5 520.5 M1734.3 527.8 L1747.5 526.6 Q1751 526.3 1753 528.9 L1760 536 Q1760.5 538.5 1757.7 539.5 L1743.6 540.6 M1736.6 530.1 Q1741 538 1743.6 541.8"/>
<path class="k" d="M1757 540 Q1760 550 1767 560 Q1776 578 1788.1 596.8 Q1793 606 1799.8 613.9 Q1806 618 1813.3 617.5 M1749.5 541.2 Q1752 552 1758 563 Q1766 582 1778.7 600"/>
<!-- hinge loops -->
<path class="kf" d="M1736.6 466.5 Q1736.6 462.2 1740.8 462.2 Q1744.6 462 1746 465 L1748.8 476.5 L1744.5 478 L1743 471.5 Q1741 472.5 1739 470.5 L1741.5 474.5 L1739.2 477.5 Q1736.5 472 1736.6 466.5 Z"/>
<circle class="k" cx="1740.7" cy="466.3" r="2"/>
<path class="kf" d="M1756.4 461.3 Q1756.4 457 1760.6 457 Q1764.6 456.8 1766 460 L1769.6 468.6 L1765.6 470 L1763.2 465.6 Q1761 467 1758.8 465.3 L1762.5 469.5 L1761.5 471.4 Q1756.5 467 1756.4 461.3 Z"/>
<circle class="k" cx="1760.6" cy="461.1" r="2"/>
<path class="k" d="M1744.5 478 V480 M1748.8 476.5 V478.5 M1765.6 470 V471.5 M1769.6 468.6 V470.5"/>
<ellipse cx="1793.7" cy="594" rx="1.8" ry="4.4" fill="#333" stroke="#111" stroke-width="1.4" transform="rotate(-6 1793.7 594)"/>
<g class="d">
<circle cx="1716.7" cy="496" r="0.7"/><circle cx="1717.3" cy="498.5" r="0.7"/><circle cx="1717.8" cy="500.5" r="0.7"/>
<circle cx="1779.3" cy="574.6" r="0.8"/><circle cx="1808" cy="592.7" r="0.9"/><circle cx="1783" cy="594" r="0.7"/><circle cx="1786" cy="596" r="0.7"/><circle cx="1789" cy="596.5" r="0.7"/>
<circle cx="1785.5" cy="635.3" r="0.8"/><circle cx="1766" cy="641" r="0.8"/><circle cx="1845.5" cy="602.5" r="0.8"/><circle cx="1784.5" cy="634.5" r="0.7"/>
</g>

</g>
<g id="small">
<!-- cap top -->
<path class="bf" stroke-width="1.6" d="M1658.6 200 Q1668 196 1678.6 195.4 Q1690 194.8 1698.6 196.2 L1700.5 221.2 Q1680 225 1661.9 225.6 Z"/>
<path class="k" d="M1659 202.6 Q1680 198.5 1698.8 198.6"/>
<!-- coupler 1 (part 5) -->
<g>
<path class="bf" d="M1681.2 358.9 Q1694 355.8 1707.5 356.3 L1708.6 378 L1711 379.5 L1711.1 398.4 Q1698 402 1684.7 401.1 L1683.5 381.5 L1682.4 380 Z"/>
<path d="M1681.2 358.6 Q1694 355.5 1707.5 356 L1707.8 362 Q1694 361.8 1681.6 364.2 Z" fill="#111"/>
<path d="M1682.6 379.6 Q1697 377.8 1710.8 377.6 L1710.9 380.6 Q1697 380.8 1682.9 382.6 Z" fill="#111"/>
<path d="M1683.2 385.2 Q1697 383.2 1711 383 L1711 388 Q1697 388.2 1683.5 390.2 Z" fill="#111"/>
<path d="M1683.8 392 Q1697 390.2 1711 390 L1711 392.4 Q1697 392.6 1684 394.4 Z" fill="#111"/>
<path d="M1684.2 396.2 Q1697 394.6 1711 394.4 L1711.1 398.6 Q1698 402.3 1684.7 401.4 Z" fill="#111"/>
<path class="k" d="M1694.3 373.5 V377.5"/>
</g>
<!-- coupler 2 -->
<g transform="translate(45.6 464.6) rotate(-0.5 1696 380)">
<path class="bf" d="M1681.2 358.9 Q1694 355.8 1707.5 356.3 L1708.6 378 L1711 379.5 L1711.1 398.4 Q1698 402 1684.7 401.1 L1683.5 381.5 L1682.4 380 Z"/>
<path d="M1681.2 358.6 Q1694 355.5 1707.5 356 L1707.8 362 Q1694 361.8 1681.6 364.2 Z" fill="#111"/>
<path d="M1682.6 379.6 Q1697 377.8 1710.8 377.6 L1710.9 380.6 Q1697 380.8 1682.9 382.6 Z" fill="#111"/>
<path d="M1683.2 385.2 Q1697 383.2 1711 383 L1711 388 Q1697 388.2 1683.5 390.2 Z" fill="#111"/>
<path d="M1683.8 392 Q1697 390.2 1711 390 L1711 392.4 Q1697 392.6 1684 394.4 Z" fill="#111"/>
<path d="M1684.2 396.2 Q1697 394.6 1711 394.4 L1711.1 398.6 Q1698 402.3 1684.7 401.4 Z" fill="#111"/>
<circle class="d" cx="1694.5" cy="376" r="0.8"/>
</g>
<!-- cap bottom -->
<path class="bf" stroke-width="1.7" d="M1737.4 1001.6 Q1757 998 1777.6 997.9 L1779.8 1022.5 Q1779.5 1025 1777 1025.5 Q1760 1028.5 1743 1028.8 Q1739.8 1028.8 1739.5 1026 Z"/>
<path d="M1737.4 1001.2 Q1757 997.6 1777.6 997.5 L1777.8 1000 Q1757 1000.4 1737.7 1004 Z" fill="#111"/>
<path class="k" d="M1739.5 1025.3 Q1760 1024.5 1779.7 1021.5"/>

</g>
<g id="p8">
<path class="kf" d="M1690.3 1255.9 L1758.2 1255.9 L1758.6 1360.3 L1692.4 1361.8 Z"/>
<circle class="k" cx="1722.9" cy="1354.6" r="4.2"/><circle class="t" cx="1722.9" cy="1354.6" r="3"/>
<path d="M1702.9 1256 L1711 1252.6 L1736 1252.6 L1746 1256.2 Z" fill="#111"/>
<path class="kf" d="M1711.3 1247.5 H1735.5 V1253.5 H1711.3 Z"/>
<path class="k" d="M1721.5 1247.5 V1253.5 M1724 1247.5 V1253.5"/>
<path d="M1709.8 1245.2 H1737 V1247.8 H1709.8 Z" fill="#111"/>
<path d="M1711.6 1231 Q1712 1227.5 1715 1227 L1732 1227 Q1735.4 1227.5 1735.8 1231 L1736.5 1245.5 H1710.6 Z" fill="#111"/>
<path d="M1713.5 1231 L1714 1243 M1716.5 1230 L1717 1243.5 M1720 1232 l2 9 l2 -9 M1727 1231.5 q-2 5 0 10 q2 -5 0 -10 M1731 1231 L1733.5 1242 M1733.5 1231 L1731 1242" stroke="#fff" stroke-width="1" fill="none"/>
<path class="kf" d="M1718.7 1222 Q1722 1220.8 1725 1222 V1227 H1718.7 Z"/>

</g>

<g id="wm" class="wm">
<path d="M729.8 722.5V640Q729.8 624.7 745 624.7H793.5V647.8H752Q745.2 647.8 745.2 655V669.5H776V692H745.2V722.5Z"/>
<path d="M811 624.7H827.2V692Q827.2 699.6 835 699.6H867V722.5H829Q811 722.5 811 704Z"/>
<path d="M882.5 624.7H898V688Q898 699.6 910 699.6H926Q938 699.6 938 688V624.7H952.5V696Q952.5 722.5 926 722.5H909Q882.5 722.5 882.5 696Z"/>
<path d="M973.5 624.7H989V722.5H973.5Z"/>
<path fill-rule="evenodd" d="M1013.3 624.7H1050Q1084 624.7 1084 660V687Q1084 722.5 1050 722.5H1013.3ZM1028.7 647.8V699.4H1050Q1068.6 699.4 1068.6 682V665Q1068.6 647.8 1050 647.8Z"/>
<path fill-rule="evenodd" d="M1107.2 722.5V624.7H1148Q1174 624.7 1174 650V663Q1174 684 1156 688L1176 722.5H1158L1140 690H1122.6V722.5ZM1122.6 647.8V668H1148Q1158.6 668 1158.6 659V656Q1158.6 647.8 1148 647.8Z"/>
<path fill-rule="evenodd" d="M1193 722.5L1228 632Q1231 624.7 1238 624.7Q1245 624.7 1248 632L1279 722.5H1262L1255 702H1219L1211 722.5ZM1226 682H1249L1238 650Z"/>

</g>
<g id="leaders" class="ld">
<line x1="48.7" y1="97" x2="36.3" y2="612"/>
<line x1="455.2" y1="96.5" x2="499" y2="632"/>
<line x1="1113.6" y1="94.5" x2="1321.3" y2="576"/>
<line x1="1489.5" y1="96.5" x2="1545" y2="624"/>
<line x1="1901.5" y1="387.6" x2="1700" y2="383.4"/>
<line x1="1902" y1="538.1" x2="1778" y2="518"/>
<line x1="1903.2" y1="681.6" x2="1712.5" y2="634.8"/>
<line x1="1901.3" y1="1168.6" x2="1725" y2="1292.5"/>
</g>
<g id="callouts">
<circle class="co" cx="49" cy="49" r="47.3"/><path d="M55.6 73.9H48.9V36.5Q43.5 41 37.15 43.9V37.3Q45.5 33 51.2 25H55.6Z" fill="#000"/>
<circle class="co" cx="452" cy="49" r="47.3"/><text class="num" x="452" y="74.7">2</text>
<circle class="co" cx="1094" cy="49" r="47.3"/><text class="num" x="1094" y="74.7">3</text>
<circle class="co" cx="1490" cy="49" r="47.3"/><text class="num" x="1490" y="74.7">4</text>
<circle class="co" cx="1949.5" cy="387.3" r="47.3"/><text class="num" x="1949.5" y="413.0">5</text>
<circle class="co" cx="1950" cy="538.9" r="47.3"/><text class="num" x="1950" y="564.6">6</text>
<circle class="co" cx="1950" cy="680.5" r="47.3"/><text class="num" x="1950" y="706.2">7</text>
<circle class="co" cx="1949.5" cy="1167" r="47.3"/><text class="num" x="1949.5" y="1192.7">8</text>
</g>
</svg>
</body>
</html>
